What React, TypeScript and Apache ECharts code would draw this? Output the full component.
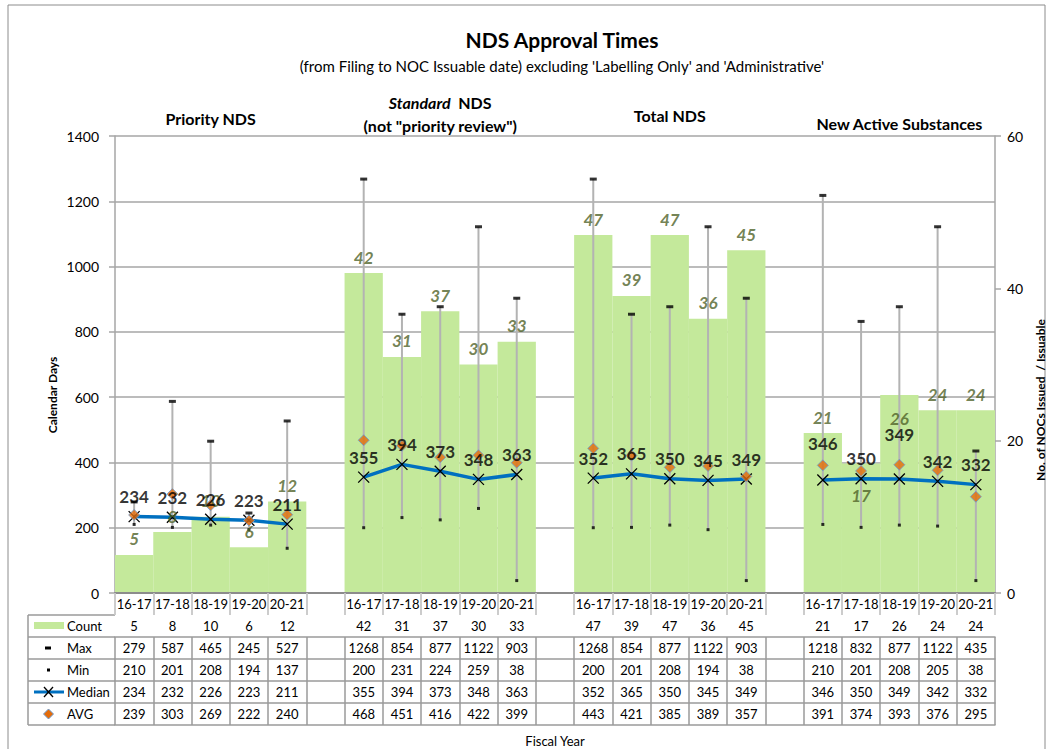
import React, { useEffect, useRef } from 'react';
import * as echarts from 'echarts';

// ---------- data ----------
const fiscalYears = ['16-17', '17-18', '18-19', '19-20', '20-21'];
const groupTitles = ['Priority NDS', 'Standard NDS', 'Total NDS', 'New Active Substances'];
const rowNames = ['Count', 'Max', 'Min', 'Median', 'AVG'];
const countValues = [5, 8, 10, 6, 12, 42, 31, 37, 30, 33, 47, 39, 47, 36, 45, 21, 17, 26, 24, 24];
const maxValues = [279, 587, 465, 245, 527, 1268, 854, 877, 1122, 903, 1268, 854, 877, 1122, 903, 1218, 832, 877, 1122, 435];
const minValues = [210, 201, 208, 194, 137, 200, 231, 224, 259, 38, 200, 201, 208, 194, 38, 210, 201, 208, 205, 38];
const medianValues = [234, 232, 226, 223, 211, 355, 394, 373, 348, 363, 352, 365, 350, 345, 349, 346, 350, 349, 342, 332];
const avgValues = [239, 303, 269, 222, 240, 468, 451, 416, 422, 399, 443, 421, 385, 389, 357, 391, 374, 393, 376, 295];
const daysAxis = { min: 0, max: 1400, interval: 200 };
const countAxis = { min: 0, max: 60, interval: 20 };

// label nudges (layout only)
const countLabelNudges = [
  { group: 3, year: 1, dy: 48 },
  { group: 3, year: 2, dy: 40 },
];
const medianLabelNudges = [
  { group: 3, year: 0, dy: -17 },
  { group: 3, year: 2, dy: -25 },
];

// ---------- layout / style ----------
const W = 1049;
const H = 749;
const GL = 115;
const GR = 995;
const GT = 136;
const GB = 593;
const ROW_H = 22;
const FONT = 'Lato, "Liberation Sans", sans-serif';
const GREEN = '#C4E99B';
const OLIVE = '#4F6228';
const BLUE = '#0070C0';
const ORANGE = '#E46C0A';
const DIAMOND_BORDER = '#6A9BD1';
const GRID_C = '#A6A6A6';
const ERR_C = '#B3B3B3';
const TABLE_C = '#9A9A9A';

function spread<T>(vals: T[]): (T | null)[] {
  const out: (T | null)[] = [];
  const per = fiscalYears.length;
  for (let g = 0; g < groupTitles.length; g++) {
    out.push(...vals.slice(g * per, g * per + per));
    if (g < groupTitles.length - 1) out.push(null);
  }
  return out;
}
const flatIndex = (group: number, year: number) => group * (fiscalYears.length + 1) + year;

function buildOption() {
  const categories = spread(groupTitles.flatMap(() => fiscalYears)).map((c) => c ?? '');
  const rows = [countValues, maxValues, minValues, medianValues, avgValues].map((r) =>
    spread(r).map((v) => (v == null ? '' : String(v)))
  );
  const counts = spread(countValues);
  const maxs = spread(maxValues);
  const mins = spread(minValues);
  const medians = spread(medianValues);
  const avgs = spread(avgValues);

  const rangeData: number[][] = [];
  mins.forEach((mn, i) => {
    if (mn != null && maxs[i] != null) rangeData.push([i, mn as number, maxs[i] as number]);
  });

  const countLabelData = counts.map((v, i) => {
    const n = countLabelNudges.find((k) => flatIndex(k.group, k.year) === i);
    if (v == null) return null;
    return n ? { value: v, label: { offset: [0, n.dy] } } : v;
  });
  const medianLabelData = medians.map((v, i) => {
    const n = medianLabelNudges.find((k) => flatIndex(k.group, k.year) === i);
    if (v == null) return null;
    return n ? { value: v, label: { offset: [0, n.dy] } } : v;
  });

  const tableText = { fontFamily: FONT, fontSize: 13, color: '#000' };

  const xAxes: any[] = [
    {
      type: 'category',
      data: categories,
      position: 'bottom',
      axisLine: { show: true, lineStyle: { color: '#8C8C8C', width: 2 } },
      axisTick: { show: true, interval: 0, length: ROW_H, lineStyle: { color: '#D4D4D4', width: 1.5 } },
      axisLabel: { interval: 0, margin: 4, ...tableText },
      splitLine: { show: false },
      z: 5,
    },
  ];
  rows.forEach((r, k) => {
    xAxes.push({
      type: 'category',
      data: r,
      position: 'bottom',
      offset: (k + 1) * ROW_H,
      axisLine: { show: true, lineStyle: { color: TABLE_C, width: 1.5 } },
      axisTick: { show: true, interval: 0, length: ROW_H, lineStyle: { color: TABLE_C, width: 1.5 } },
      axisLabel: { interval: 0, margin: 4, ...tableText },
      splitLine: { show: false },
    });
  });
  xAxes.push({
    type: 'category',
    data: categories,
    position: 'bottom',
    offset: 6 * ROW_H,
    axisLine: { show: true, lineStyle: { color: TABLE_C, width: 1.5 } },
    axisTick: { show: false },
    axisLabel: { show: false },
    name: 'Fiscal Year',
    nameLocation: 'middle',
    nameGap: 9,
    nameTextStyle: { fontFamily: FONT, fontSize: 13, color: '#000' },
  });

  // legend column (table header) graphics
  const lx0 = 28;
  const legendEls: any[] = [];
  for (let k = 1; k <= 6; k++) {
    legendEls.push({
      type: 'line',
      shape: { x1: lx0, y1: GB + k * ROW_H, x2: GL, y2: GB + k * ROW_H },
      style: { stroke: TABLE_C, lineWidth: 1.5 },
    });
  }
  legendEls.push({
    type: 'line',
    shape: { x1: lx0, y1: GB + ROW_H, x2: lx0, y2: GB + 6 * ROW_H },
    style: { stroke: TABLE_C, lineWidth: 1.5 },
  });
  rowNames.forEach((name, k) => {
    const cy = GB + (k + 1) * ROW_H + ROW_H / 2;
    legendEls.push({
      type: 'text',
      x: 67,
      y: cy,
      style: { text: name, ...tableText, fill: '#000', verticalAlign: 'middle', align: 'left' },
    });
    if (k === 0) {
      legendEls.push({ type: 'rect', shape: { x: 34, y: cy - 4, width: 30, height: 7 }, style: { fill: GREEN } });
    } else if (k === 1) {
      legendEls.push({ type: 'rect', shape: { x: 45, y: cy - 1.5, width: 6, height: 3 }, style: { fill: '#000' } });
    } else if (k === 2) {
      legendEls.push({ type: 'rect', shape: { x: 47, y: cy - 1.5, width: 3, height: 3 }, style: { fill: '#000' } });
    } else if (k === 3) {
      legendEls.push({ type: 'line', shape: { x1: 34, y1: cy, x2: 64, y2: cy }, style: { stroke: BLUE, lineWidth: 3 } });
      legendEls.push({ type: 'line', shape: { x1: 44, y1: cy - 5, x2: 53, y2: cy + 5 }, style: { stroke: '#000', lineWidth: 1.3 } });
      legendEls.push({ type: 'line', shape: { x1: 53, y1: cy - 5, x2: 44, y2: cy + 5 }, style: { stroke: '#000', lineWidth: 1.3 } });
    } else {
      legendEls.push({
        type: 'polygon',
        shape: { points: [[48.5, cy - 5], [53.5, cy], [48.5, cy + 5], [43.5, cy]] },
        style: { fill: ORANGE, stroke: DIAMOND_BORDER, lineWidth: 1 },
      });
    }
  });

  const groupCenters = groupTitles.map((_, g) => {
    const w = (GR - GL) / categories.length;
    const start = flatIndex(g, 0);
    return GL + w * (start + fiscalYears.length / 2);
  });
  const secTitle = { fontFamily: FONT, fontSize: 16, fontWeight: 'bold', fill: '#000', align: 'center', verticalAlign: 'middle' };

  const graphics: any[] = [
    {
      type: 'rect',
      shape: { x: 8, y: 5, width: 1037, height: 760 },
      style: { fill: 'none', stroke: '#8C8C8C', lineWidth: 1 },
      silent: true,
    },
    { type: 'text', x: groupCenters[0], y: 118, style: { text: groupTitles[0], ...secTitle } },
    {
      type: 'text',
      x: groupCenters[1],
      y: 102,
      style: {
        text: '{i|Standard}  NDS',
        ...secTitle,
        rich: { i: { fontStyle: 'italic', fontWeight: 'bold', fontSize: 16, fontFamily: FONT, fill: '#000' } },
      },
    },
    { type: 'text', x: groupCenters[1], y: 125, style: { text: '(not "priority review")', ...secTitle } },
    { type: 'text', x: groupCenters[2], y: 115, style: { text: groupTitles[2], ...secTitle } },
    { type: 'text', x: groupCenters[3], y: 123, style: { text: groupTitles[3], ...secTitle } },
    {
      type: 'text',
      x: 52,
      y: 395,
      rotation: Math.PI / 2,
      style: { text: 'Calendar Days', fontFamily: FONT, fontSize: 12, fontWeight: 'bold', fill: '#000', align: 'center', verticalAlign: 'middle' },
    },
    {
      type: 'text',
      x: 1040,
      y: 400,
      rotation: Math.PI / 2,
      style: { text: 'No. of NOCs Issued  / Issuable', fontFamily: FONT, fontSize: 12, fontWeight: 'bold', fill: '#000', align: 'center', verticalAlign: 'middle' },
    },
    ...legendEls,
  ];

  return {
    animation: false,
    backgroundColor: '#fff',
    textStyle: { fontFamily: FONT },
    title: {
      text: 'NDS Approval Times',
      subtext: "(from Filing to NOC Issuable date) excluding 'Labelling Only' and 'Administrative'",
      left: 557,
      textAlign: 'center',
      top: 24,
      itemGap: 8,
      textStyle: { fontFamily: FONT, fontSize: 21, fontWeight: 'bold', color: '#000' },
      subtextStyle: { fontFamily: FONT, fontSize: 15, color: '#000' },
    },
    grid: {
      left: GL,
      right: W - GR,
      top: GT,
      bottom: H - GB,
      containLabel: false,
      outerBoundsMode: 'none',
    },
    xAxis: xAxes,
    yAxis: [
      {
        type: 'value',
        ...daysAxis,
        position: 'left',
        axisLine: { show: true, lineStyle: { color: GRID_C, width: 1.5 } },
        axisTick: { show: true, length: 6, lineStyle: { color: GRID_C, width: 1.5 } },
        axisLabel: { fontFamily: FONT, fontSize: 14, color: '#000', margin: 16, formatter: (v: number) => String(v) },
        splitLine: { show: true, lineStyle: { color: GRID_C, width: 1.5 } },
      },
      {
        type: 'value',
        ...countAxis,
        position: 'right',
        axisLine: { show: true, lineStyle: { color: GRID_C, width: 1.5 } },
        axisTick: { show: true, length: 6, lineStyle: { color: GRID_C, width: 1.5 } },
        axisLabel: { fontFamily: FONT, fontSize: 14, color: '#000', margin: 12, formatter: (v: number) => String(v) },
        splitLine: { show: false },
      },
    ],
    graphic: graphics,
    series: [
      {
        name: 'Count',
        type: 'bar',
        yAxisIndex: 1,
        data: counts,
        barWidth: '100%',
        barGap: '0%',
        itemStyle: { color: GREEN },
        z: 1,
      },
      {
        name: 'Range',
        type: 'custom',
        data: rangeData,
        encode: { x: 0, y: [1, 2] },
        renderItem: (_params: any, api: any) => {
          const x = api.value(0);
          const lo = api.coord([x, api.value(1)]);
          const hi = api.coord([x, api.value(2)]);
          return {
            type: 'line',
            shape: { x1: lo[0], y1: lo[1], x2: hi[0], y2: hi[1] },
            style: { stroke: ERR_C, lineWidth: 2 },
          };
        },
        z: 2,
      },
      {
        name: 'Max',
        type: 'scatter',
        data: maxs,
        symbol: 'rect',
        symbolSize: [7, 3],
        itemStyle: { color: '#000' },
        z: 3,
      },
      {
        name: 'Min',
        type: 'scatter',
        data: mins,
        symbol: 'rect',
        symbolSize: [3, 3],
        itemStyle: { color: '#000' },
        z: 3,
      },
      {
        name: 'Median',
        type: 'line',
        data: medians,
        connectNulls: false,
        symbol: 'path://M0,0L10,10M10,0L0,10',
        symbolSize: 11,
        showAllSymbol: true,
        lineStyle: { color: BLUE, width: 3.5 },
        itemStyle: { color: 'rgba(0,0,0,0)', borderColor: '#000', borderWidth: 1.3 },
        z: 4,
      },
      {
        name: 'AVG',
        type: 'scatter',
        data: avgs,
        symbol: 'diamond',
        symbolSize: 11,
        itemStyle: { color: ORANGE, borderColor: DIAMOND_BORDER, borderWidth: 1 },
        z: 5,
      },
      {
        name: 'Count labels',
        type: 'scatter',
        yAxisIndex: 1,
        data: countLabelData,
        symbolSize: 1,
        silent: true,
        itemStyle: { color: 'rgba(0,0,0,0)' },
        label: {
          show: true,
          position: 'top',
          distance: 7,
          fontFamily: FONT,
          fontSize: 17,
          fontStyle: 'italic',
          fontWeight: 'bold',
          color: OLIVE,
        },
        z: 9,
      },
      {
        name: 'Median labels',
        type: 'scatter',
        data: medianLabelData,
        symbolSize: 1,
        silent: true,
        itemStyle: { color: 'rgba(0,0,0,0)' },
        label: {
          show: true,
          position: 'top',
          distance: 11,
          fontFamily: FONT,
          fontSize: 17,
          fontWeight: 'bold',
          color: '#000',
        },
        z: 10,
      },
    ],
  };
}

export default function App() {
  const ref = useRef<HTMLDivElement>(null);
  useEffect(() => {
    if (!ref.current) return;
    const chart = echarts.init(ref.current, undefined, { renderer: 'svg' });
    chart.setOption(buildOption() as any);
    return () => chart.dispose();
  }, []);
  return (
    <div
      ref={ref}
      style={{ position: 'fixed', left: 0, top: 0, width: W, height: H, background: '#fff' }}
    />
  );
}
